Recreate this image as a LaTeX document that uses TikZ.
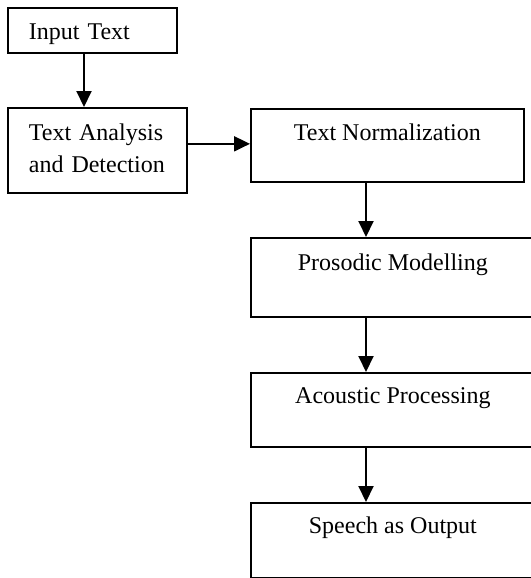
\documentclass[tikz,border=0pt]{standalone}
\usepackage{fontspec}
\setmainfont{Liberation Serif}
\usetikzlibrary{arrows.meta}
\begin{document}
\begin{tikzpicture}[x=0.75pt,y=-0.75pt,every node/.style={font=\fontsize{18}{24}\selectfont},
  box/.style={draw,line width=1.3pt,inner sep=0pt,anchor=north west},
  leftbox/.style={box,align=left,inner xsep=15.75pt},
  midbox/.style={box,align=center},
  arr/.style={line width=1.5pt,-{Triangle[length=12pt,width=11.25pt]}}]
\path[use as bounding box] (0,0) rectangle (531,578); \clip (0,0) rectangle (531,578);
\node[leftbox,text width=95.25pt,text height=24pt,text depth=9.75pt] (input) at (7,7) {Input Text};
\node[leftbox,text width=102.75pt,text height=24.75pt,text depth=39pt] (analysis) at (7,107) {Text Analysis\\and Detection};
\node[midbox,minimum width=204.75pt,text height=24pt,text depth=30.75pt] (norm) at (250,108) {Text Normalization};
\node[midbox,minimum width=213pt,text height=24.75pt,text depth=34.5pt] (prosody) at (250,237) {Prosodic Modelling};
\node[midbox,minimum width=213pt,text height=23.25pt,text depth=32.25pt] (acoustic) at (250,372) {Acoustic Processing};
\node[midbox,minimum width=213pt,text height=23.25pt,text depth=33pt] (speech) at (250,502) {Speech as Output};
\coordinate (leftaxis) at (84,0); \coordinate (rightaxis) at (366,0);
\draw[arr] (input.south -| leftaxis) -- (analysis.north -| leftaxis);
\draw[arr] ([yshift=4.9pt]analysis.east) -- ([yshift=4.9pt]analysis.east -| norm.west);
\draw[arr] (norm.south -| rightaxis) -- (prosody.north -| rightaxis);
\draw[arr] (prosody.south -| rightaxis) -- (acoustic.north -| rightaxis);
\draw[arr] (acoustic.south -| rightaxis) -- (speech.north -| rightaxis);
\end{tikzpicture}
\end{document}
